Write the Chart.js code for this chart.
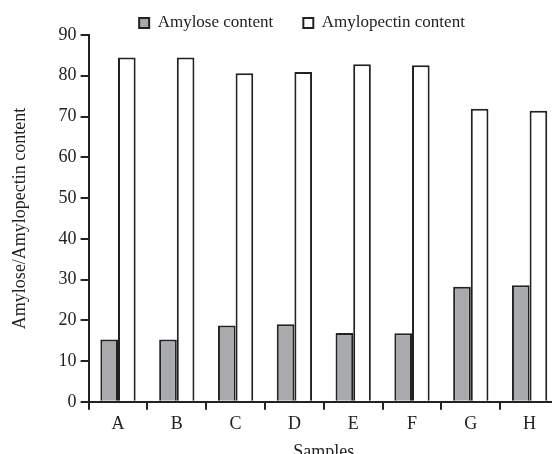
<!DOCTYPE html>
<html>
<head>
<meta charset="utf-8">
<script src="https://cdn.jsdelivr.net/npm/chart.js@4/dist/chart.umd.min.js"></script>
<style>
  html, body { margin: 0; padding: 0; background: #fff; }
  #marco { width: 552px; height: 454px; overflow: hidden; }
</style>
</head>
<body>
<div id="marco"><canvas id="grafica" width="562" height="454"></canvas></div>
<script>
// Datos
const muestras = ['A', 'B', 'C', 'D', 'E', 'F', 'G', 'H'];
const amilosa = [15.3, 15.3, 18.7, 19.0, 16.9, 16.8, 28.2, 28.6];
const amilopectina = [84.5, 84.5, 80.6, 80.9, 82.8, 82.6, 71.9, 71.4];
const ticksY = [0, 10, 20, 30, 40, 50, 60, 70, 80, 90];

const familia = '"Liberation Serif", "Times New Roman", serif';
const fuente = { family: familia, size: 18 };
const fuenteLeyenda = { family: familia, size: 17 };
const negro = '#222';

// Plugin para acomodar la leyenda como en la figura original
const ajusteLeyenda = {
    id: 'ajusteLeyenda',
    beforeLayout(chart) {
        const leyenda = chart.legend;
        if (leyenda && !leyenda._ajustada) {
            const fitOriginal = leyenda.fit;
            leyenda.fit = function () {
                fitOriginal.call(this);
                this.height = 35;
            };
            leyenda._ajustada = true;
        }
    },
    afterLayout(chart) {
        const leyenda = chart.legend;
        const desplazamiento = 18;
        leyenda.left += desplazamiento;
        leyenda.right += desplazamiento;
        leyenda.top = 23 - 30 - 8.5;
        leyenda.bottom = leyenda.top + 77;
    }
};

// Función para cargar la gráfica
function cargarGrafica() {
    const ctx = document.getElementById('grafica').getContext('2d');
    window.grafica = new Chart(ctx, {
        type: 'bar',
        data: {
            labels: muestras,
            datasets: [{
                label: 'Amylose content',
                data: amilosa,
                backgroundColor: '#a9aaad',
                borderColor: negro,
                borderWidth: 2,
                categoryPercentage: 0.6,
                barPercentage: 1
            }, {
                label: 'Amylopectin content',
                data: amilopectina,
                backgroundColor: '#ffffff',
                borderColor: negro,
                borderWidth: 2,
                categoryPercentage: 0.6,
                barPercentage: 1
            }]
        },
        plugins: [ajusteLeyenda],
        options: {
            responsive: false,
            animation: false,
            layout: { padding: { top: 0, left: 9, right: 3, bottom: -9 } },
            plugins: {
                tooltip: { enabled: false },
                legend: {
                    position: 'top',
                    labels: {
                        font: fuenteLeyenda,
                        color: negro,
                        boxWidth: 10,
                        boxHeight: 10,
                        padding: 30
                    }
                }
            },
            scales: {
                x: {
                    offset: true,
                    grid: {
                        offset: true,
                        drawOnChartArea: false,
                        drawTicks: true,
                        tickLength: 8,
                        color: negro,
                        lineWidth: 2
                    },
                    border: { display: true, color: negro, width: 2 },
                    ticks: { font: fuente, color: negro, padding: 4 },
                    title: { display: true, text: 'Samples', font: fuente, color: negro, padding: { top: 2, bottom: 0 } }
                },
                y: {
                    min: 0,
                    max: 90,
                    afterBuildTicks: (eje) => { eje.ticks = ticksY.map(v => ({ value: v })); },
                    grid: {
                        drawOnChartArea: false,
                        drawTicks: true,
                        tickLength: 8,
                        color: negro,
                        lineWidth: 2
                    },
                    border: { display: true, color: negro, width: 2 },
                    ticks: { font: fuente, color: negro, padding: 4 },
                    title: { display: true, text: 'Amylose/Amylopectin content', font: fuente, color: negro, padding: { top: 0, bottom: 24 } }
                }
            }
        }
    });
}

document.addEventListener('DOMContentLoaded', cargarGrafica);
</script>
</body>
</html>
